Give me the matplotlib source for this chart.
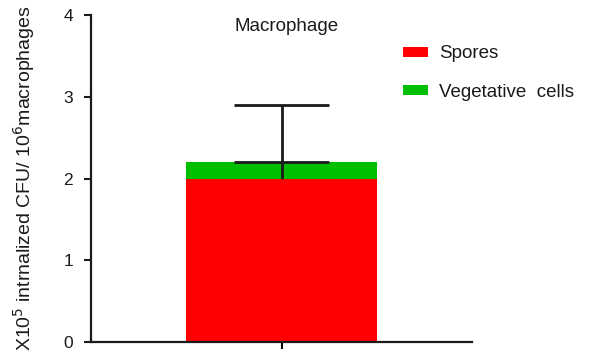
import matplotlib.pyplot as plt

plt.rcParams['font.family'] = ['Liberation Sans', 'DejaVu Sans']

# mean CFU (x10^5 per 10^6 macrophages)
groups = ["Macrophage"]
spores = [2.0]
vegetative = [0.2]
spores_upper = [2.9]      # top of the error bar
veg_cap = [2.2]           # cap drawn at top of stacked bar
y_ticks = [0, 1, 2, 3, 4]

fig = plt.figure(figsize=(5.93, 3.58), dpi=100)
ax = fig.add_axes([0.1535, 0.0447, 0.6425, 0.9133])

x = [0]
ax.bar(x, spores, width=1.0, color='#ff0000', label='Spores', zorder=2)
ax.bar(x, vegetative, width=1.0, bottom=spores, color='#00bf00',
       label='Vegetative  cells', zorder=2)

# error bar: stem from the spores mean up to the upper cap
cap_half = 0.25
ax.vlines(x, spores, spores_upper, color='#1a1a1a', lw=2, zorder=3)
ax.hlines(spores_upper, x[0] - cap_half, x[0] + cap_half, color='#1a1a1a', lw=2, zorder=3)
ax.hlines(veg_cap, x[0] - cap_half, x[0] + cap_half, color='#1a1a1a', lw=2, zorder=3)

ax.set_xlim(-1, 1)
ax.set_ylim(0, 4)
ax.set_yticks(y_ticks)
ax.set_xticks(x)
ax.set_xticklabels([''])
ax.tick_params(axis='both', direction='out', width=1.5, length=5, labelsize=12.5)
ax.tick_params(axis='y', pad=8, colors='#1a1a1a')

for side in ['top', 'right']:
    ax.spines[side].set_visible(False)
for side in ['left', 'bottom']:
    ax.spines[side].set_linewidth(1.6)
    ax.spines[side].set_color('#1a1a1a')

ax.text(0.024, 3.86, groups[0], ha='center', va='center', fontsize=13.5, color='#1a1a1a')
ax.set_ylabel(r'X10$^5$ intrnalized CFU/ 10$^6$macrophages', fontsize=14,
              labelpad=19, color='#1a1a1a')

ax.legend(loc='upper left', bbox_to_anchor=(0.8, 0.93), frameon=False, fontsize=13.5,
          handlelength=1.3, handleheight=0.45, handletextpad=0.6,
          labelspacing=1.15, borderaxespad=0, labelcolor='#1a1a1a')

fig.savefig('out.png', dpi=100)
